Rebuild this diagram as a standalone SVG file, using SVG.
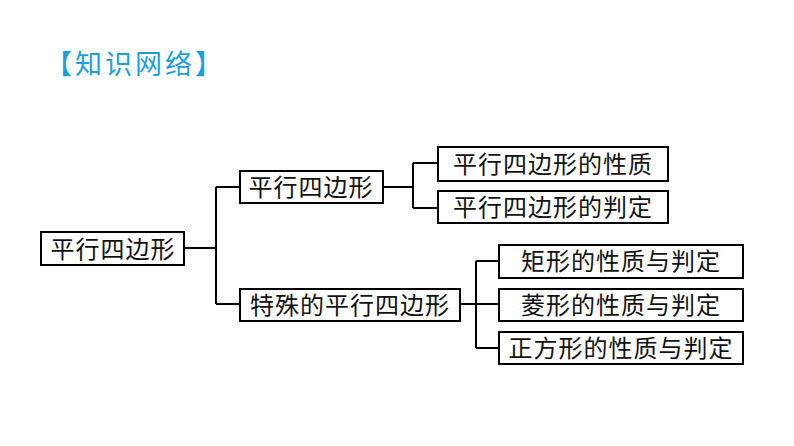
<svg xmlns="http://www.w3.org/2000/svg" width="794" height="446" viewBox="0 0 794 446">
<style>
.box{fill:#fff;stroke:#000;stroke-width:2}
.t{font-family:"Liberation Serif","Noto Sans CJK SC",serif;font-size:24px;letter-spacing:1px;text-anchor:middle;fill:#111}
.c{fill:none;stroke:#000;stroke-width:2}
.title{font-family:"Noto Sans CJK SC",sans-serif;font-size:27px;letter-spacing:3px;fill:#1a9fdc}
</style>
<rect width="794" height="446" fill="#fff"/>
<text class="title" x="45" y="74">【知识网络】</text>
<g id="connectors">
<path class="c" d="M184,248 H216 M216,187 V304 M216,187 H240 M216,304 H240"/>
<path class="c" d="M383,187 H413 M413,163 V208 M413,163 H438 M413,208 H438"/>
<path class="c" d="M460,304 H499 M476,261 V348 M476,261 H499 M476,348 H499"/>
</g>
<g id="root"><rect class="box" x="41" y="232" width="143" height="33"/><text class="t" x="113" y="257.5">平行四边形</text></g>
<g id="pxsbx"><rect class="box" x="240" y="171" width="143" height="32"/><text class="t" x="311" y="195.5">平行四边形</text></g>
<g id="xz"><rect class="box" x="438" y="147" width="230" height="34"/><text class="t" x="553" y="172.5">平行四边形的性质</text></g>
<g id="pd"><rect class="box" x="438" y="191" width="230" height="32"/><text class="t" x="553" y="215.5">平行四边形的判定</text></g>
<g id="ts"><rect class="box" x="240" y="289" width="220" height="32"/><text class="t" x="350" y="313.5">特殊的平行四边形</text></g>
<g id="jx"><rect class="box" x="499" y="245" width="244" height="33"/><text class="t" x="621" y="270">矩形的性质与判定</text></g>
<g id="lx"><rect class="box" x="499" y="289" width="244" height="32"/><text class="t" x="621" y="313.5">菱形的性质与判定</text></g>
<g id="zfx"><rect class="box" x="499" y="332" width="244" height="32"/><text class="t" x="621" y="356.5">正方形的性质与判定</text></g>
</svg>
